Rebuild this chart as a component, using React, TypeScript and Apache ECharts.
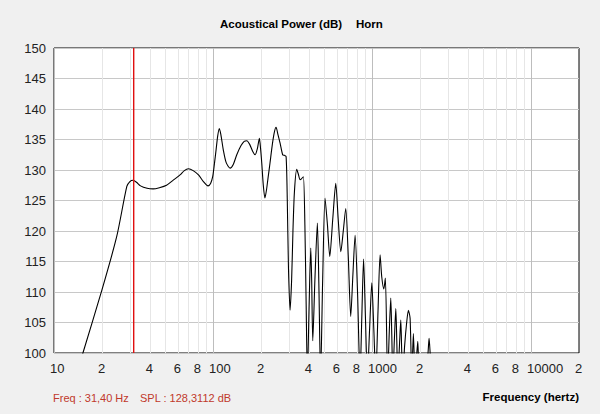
import React, { useEffect, useRef } from "react";
import * as echarts from "echarts";

const FREQ = [
  14, 15.2, 20, 24.8, 28.7, 30, 31.4, 33, 35, 38.5, 42, 46, 51, 56, 62, 66, 70, 75, 81, 87, 93,
  96.5, 99.5, 102, 104.5, 107, 109.5, 112, 116, 121, 128, 134, 141, 150, 157, 163, 170, 178, 184, 190, 195.6, 199,
  202.5, 207, 212, 217, 222, 228, 236, 243, 249, 256, 264, 274, 281, 288, 293, 298, 305, 312, 318, 325, 336, 344,
  352.6, 361, 370, 378, 385, 392, 402, 411.6, 417, 423.7, 437, 452.9, 463, 474.4, 489, 506, 524, 542, 566, 591, 612,
  636, 659, 683, 708, 734, 758, 782, 810, 840, 862, 884, 908, 934, 965, 996, 1025, 1055, 1090, 1123, 1150, 1185,
  1212, 1252, 1285, 1311, 1330, 1350, 1380, 1410, 1430, 1451, 1485, 1515, 1537, 1560, 1600, 1650, 1692, 1734, 1777,
  1818, 1864, 1900, 1938, 1989, 2100, 2230, 2283, 2330, 2384, 2600,
];

const SPL = [
  96.8, 100, 110.3, 119.1, 127.3, 128.1, 128.31, 128.0, 127.4, 127.0, 126.9, 127.1, 127.5,
  128.3, 129.2, 129.9, 130.2, 129.9, 129.2, 128.1, 127.4, 127.8, 128.9, 131.0, 133.3, 135.6, 136.8, 135.8, 133.3,
  131.2, 130.3, 130.9, 132.5, 134.0, 134.7, 134.8, 134.2, 133.0, 132.5, 133.5, 135.2, 133.5, 131.1, 127.5, 125.4,
  126.8, 128.8, 131.1, 134.2, 136.2, 137.0, 135.8, 134.4, 132.5, 132.4, 132.2, 125, 114, 107.0, 112, 120, 126.5,
  130.1, 129.3, 128.4, 128.6, 128.9, 121, 108, 96, 108, 117.2, 112, 102, 112, 121.3, 111, 96, 112, 125.4, 121,
  115.8, 122, 127.8, 122, 116.6, 120, 123.7, 116, 106, 113, 119.3, 110, 96, 106, 115.4, 106, 96, 104, 111.5, 104,
  96, 107, 116.1, 112.5, 110.5, 112.3, 96, 104, 109.0, 103, 96, 102, 107.3, 102, 96, 101, 105.4, 100, 96, 101, 105,
  107.0, 105.7, 96, 103.2, 96, 99, 101.9, 96, 96, 99, 102.4, 99, 96, 90,
];

const GRID_FREQS = [
  10, 20, 30, 40, 50, 60, 70, 80, 90, 100, 200, 300, 400, 500, 600, 700, 800, 900, 1000, 2000, 3000, 4000, 5000,
  6000, 7000, 8000, 9000, 10000, 20000,
];
const DECADES = [10, 100, 1000, 10000];

const TICK_VALUES = [10, 20, 40, 60, 80, 100, 200, 400, 600, 800, 1000, 2000, 4000, 6000, 8000, 10000, 20000];
const TICK_LABELS = ["10", "2", "4", "6", "8", "100", "2", "4", "6", "8", "1000", "2", "4", "6", "8", "10000", "2"];

const CURSOR_FREQ = 31.4;
const TITLE = "Acoustical Power (dB)";
const SUBTITLE = "Horn";
const X_NAME = "Frequency (hertz)";
const READ_FREQ = "Freq : 31,40 Hz";
const READ_SPL = "SPL : 128,3112 dB";

export default function App() {
  const ref = useRef<HTMLDivElement>(null);
  useEffect(() => {
    document.body.style.margin = "0";
    const chart = echarts.init(ref.current!, null, { renderer: "svg" });
    const font = '"Liberation Sans", Arial, sans-serif';
    const labelFor = (v: number) => {
      let best = 0;
      let bd = Infinity;
      TICK_VALUES.forEach((t, i) => {
        const d = Math.abs(Math.log10(t) - Math.log10(v));
        if (d < bd) {
          bd = d;
          best = i;
        }
      });
      return TICK_LABELS[best];
    };
    const option: any = {
      animation: false,
      backgroundColor: "#f0f0f0",
      grid: {
        left: 54,
        right: 21,
        top: 48,
        bottom: 61,
        show: true,
        backgroundColor: "#ffffff",
        borderColor: "#000000",
        borderWidth: 1,
        outerBoundsMode: "none",
        containLabel: false,
      },
      xAxis: {
        type: "log",
        logBase: 10,
        min: 10,
        max: 20000,
        axisLine: { show: false },
        axisTick: { show: false },
        splitLine: { show: false },
        minorSplitLine: { show: false },
        axisLabel: {
          customValues: TICK_VALUES,
          formatter: (v: number) => labelFor(v),
          align: "left",
          padding: [0, 0, 0, -4],
          margin: 9,
          color: "#222",
          fontFamily: font,
          fontSize: 13,
          showMinLabel: true,
          showMaxLabel: true,
        },
      },
      yAxis: {
        type: "value",
        min: 100,
        max: 150,
        interval: 5,
        axisLine: { show: false },
        axisTick: { show: false },
        splitLine: { show: true, lineStyle: { color: "#c8c8c8", width: 1 } },
        axisLabel: { color: "#222", fontFamily: font, fontSize: 13, margin: 8 },
      },
      graphic: [
        {
          type: "text",
          x: 220,
          y: 24,
          style: { text: TITLE, font: `bold 11.5px ${font}`, fill: "#000", verticalAlign: "middle" },
        },
        {
          type: "text",
          x: 356,
          y: 24,
          style: { text: SUBTITLE, font: `bold 11.5px ${font}`, fill: "#000", verticalAlign: "middle" },
        },
        {
          type: "text",
          x: 53,
          y: 397.5,
          style: { text: READ_FREQ, font: `11px ${font}`, fill: "#c0392b", verticalAlign: "middle" },
        },
        {
          type: "text",
          x: 140,
          y: 397.5,
          style: { text: READ_SPL, font: `11px ${font}`, fill: "#c0392b", verticalAlign: "middle" },
        },
        {
          type: "text",
          x: 579,
          y: 397,
          style: {
            text: X_NAME,
            font: `bold 11.5px ${font}`,
            fill: "#000",
            align: "right",
            verticalAlign: "middle",
          },
        },
      ],
      series: [
        {
          type: "custom",
          z: 1,
          silent: true,
          clip: true,
          encode: { x: 0, y: 1 },
          data: GRID_FREQS.map((f) => [f, 100, DECADES.includes(f) ? 1 : 0]),
          renderItem: (params: any, api: any) => {
            const f = api.value(0);
            const major = api.value(2) === 1;
            const p1 = api.coord([f, 150]);
            const p2 = api.coord([f, 100]);
            const x = Math.round(p1[0]) + 0.5;
            return {
              type: "line",
              shape: { x1: x, y1: p1[1], x2: x, y2: p2[1] },
              style: { stroke: major ? "#bdbdbd" : "#e6e6e6", lineWidth: 1 },
            };
          },
        },
        {
          type: "custom",
          z: 4,
          silent: true,
          encode: { x: 0, y: 1 },
          itemStyle: { color: "#e01010" },
          data: [[CURSOR_FREQ, 100]],
          renderItem: (params: any, api: any) => {
            const f = api.value(0);
            const p1 = api.coord([f, 150]);
            const p2 = api.coord([f, 100]);
            return {
              type: "rect",
              shape: { x: Math.round(p1[0]), y: p1[1], width: 1.4, height: p2[1] - p1[1] },
              style: { fill: "#e01010" },
            };
          },
        },
        {
          type: "line",
          z: 3,
          silent: true,
          symbol: "none",
          clip: true,
          smooth: 0.25,
          lineStyle: { color: "#000000", width: 1.1 },
          data: FREQ.map((f, i) => [f, SPL[i]]),
        },
      ],
    };
    chart.setOption(option);
    return () => chart.dispose();
  }, []);
  return <div ref={ref} style={{ width: 600, height: 414, background: "#f0f0f0" }} />;
}
